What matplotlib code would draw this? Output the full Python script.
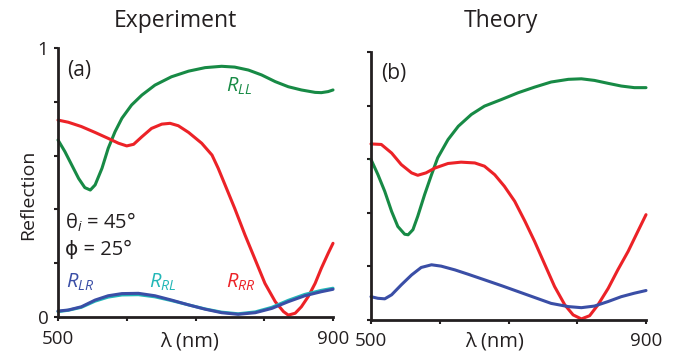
import matplotlib
matplotlib.use("Agg")
import matplotlib.pyplot as plt

plt.rcParams["font.family"] = ["Open Sans", "DejaVu Sans"]
plt.rcParams["mathtext.fontset"] = "custom"
plt.rcParams["mathtext.rm"] = "Open Sans"
plt.rcParams["mathtext.it"] = "Open Sans:italic"

GREEN = "#178a45"
RED = "#ec2227"
BLUE = "#3a4ea6"
CYAN = "#22b7b7"
INK = "#231f20"

# ---- (a) experiment ----
exp_ll_wl = [500, 510, 520, 530, 539, 547, 554, 564, 573, 583, 593, 607, 622, 641, 665, 690,
             714, 738, 757, 777, 796, 816, 835, 854, 874, 883, 893, 900]
exp_ll = [0.658, 0.615, 0.565, 0.515, 0.481, 0.472, 0.491, 0.553, 0.627, 0.689, 0.739, 0.788,
          0.825, 0.862, 0.893, 0.914, 0.927, 0.932, 0.929, 0.918, 0.900, 0.875, 0.856, 0.844,
          0.835, 0.834, 0.838, 0.844]

exp_rr_wl = [500, 515, 534, 554, 573, 588, 600, 610, 622, 636, 651, 663, 675, 690, 709, 724,
             733, 743, 757, 772, 787, 801, 816, 828, 835, 845, 854, 864, 874, 883, 893, 900]
exp_rr = [0.732, 0.724, 0.708, 0.686, 0.664, 0.646, 0.636, 0.642, 0.670, 0.701, 0.717, 0.720,
          0.711, 0.686, 0.646, 0.602, 0.553, 0.491, 0.404, 0.305, 0.212, 0.125, 0.057, 0.020,
          0.007, 0.014, 0.038, 0.076, 0.125, 0.181, 0.237, 0.274]

exp_lr_wl = [500, 515, 534, 554, 573, 593, 617, 641, 665, 690, 714, 738, 762, 787, 811, 835,
             859, 883, 900]
exp_lr = [0.022, 0.026, 0.038, 0.063, 0.079, 0.087, 0.088, 0.079, 0.063, 0.045, 0.029, 0.016,
          0.010, 0.016, 0.032, 0.057, 0.079, 0.094, 0.103]

exp_rl_wl = [500, 515, 534, 554, 573, 593, 617, 641, 665, 690, 714, 738, 762, 787, 811, 835,
             859, 883, 900]
exp_rl = [0.020, 0.025, 0.036, 0.059, 0.074, 0.082, 0.083, 0.075, 0.061, 0.045, 0.030, 0.018,
          0.012, 0.019, 0.036, 0.062, 0.084, 0.099, 0.107]

# ---- (b) theory ----
th_ll_wl = [500, 510, 520, 530, 539, 549, 554, 561, 568, 578, 588, 597, 612, 627, 646, 665,
            690, 714, 738, 762, 787, 806, 825, 845, 864, 883, 900]
th_ll = [0.599, 0.543, 0.480, 0.405, 0.349, 0.320, 0.318, 0.337, 0.387, 0.468, 0.542, 0.605,
         0.673, 0.723, 0.767, 0.798, 0.823, 0.848, 0.869, 0.888, 0.898, 0.900, 0.894, 0.883,
         0.873, 0.867, 0.867]

th_rr_wl = [500, 515, 530, 544, 559, 568, 580, 593, 612, 631, 651, 665, 680, 694, 709, 724,
            738, 753, 767, 782, 794, 806, 818, 830, 845, 859, 874, 888, 900]
th_rr = [0.657, 0.655, 0.623, 0.580, 0.549, 0.540, 0.549, 0.567, 0.584, 0.589, 0.586, 0.574,
         0.542, 0.499, 0.443, 0.368, 0.293, 0.206, 0.125, 0.056, 0.019, 0.004, 0.016, 0.056,
         0.118, 0.187, 0.256, 0.330, 0.393]

th_lr_wl = [500, 510, 520, 530, 544, 559, 573, 588, 602, 622, 641, 665, 690, 714, 738, 762,
            787, 806, 825, 845, 864, 883, 900]
th_lr = [0.087, 0.081, 0.079, 0.094, 0.131, 0.168, 0.196, 0.206, 0.201, 0.187, 0.171, 0.150,
         0.128, 0.106, 0.084, 0.062, 0.050, 0.046, 0.052, 0.069, 0.087, 0.100, 0.110]

XTICKS = [500, 600, 700, 800, 900]
XTICKLABELS = ["500", "", "", "", "900"]
YTICKS = [0, 0.2, 0.4, 0.6, 0.8, 1.0]

W, H = 681, 358
fig = plt.figure(figsize=(W / 100, H / 100), dpi=100)
ax_a = fig.add_axes([58 / W, 41 / H, 275 / W, 269 / H])
ax_b = fig.add_axes([371 / W, 38 / H, 275 / W, 268 / H])

for ax in (ax_a, ax_b):
    ax.set_xlim(500, 900)
    ax.set_ylim(0, 1)
    for s in ("top", "right"):
        ax.spines[s].set_visible(False)
    for s in ("left", "bottom"):
        ax.spines[s].set_linewidth(2.0)
        ax.spines[s].set_color(INK)
    ax.set_xticks(XTICKS)
    ax.set_xticklabels(XTICKLABELS)
    ax.set_yticks(YTICKS)
    ax.tick_params(direction="out", length=3, width=1.5, color=INK,
                   labelsize=13.5, labelcolor=INK)
    ax.tick_params(axis="x", pad=6)
    ax.tick_params(axis="y", pad=4)

ax_a.set_yticklabels(["0", "", "", "", "", "1"])
ax_b.set_yticklabels([])

lw = 2.2
kw = dict(lw=lw, solid_capstyle="round", solid_joinstyle="round", clip_on=False)
ax_a.plot(exp_ll_wl, exp_ll, color=GREEN, **kw)
ax_a.plot(exp_rr_wl, exp_rr, color=RED, **kw)
ax_a.plot(exp_rl_wl, exp_rl, color=CYAN, **kw)
ax_a.plot(exp_lr_wl, exp_lr, color=BLUE, **kw)

ax_b.plot(th_ll_wl, th_ll, color=GREEN, **kw)
ax_b.plot(th_rr_wl, th_rr, color=RED, **kw)
ax_b.plot(th_lr_wl, th_lr, color=BLUE, **kw)

lab = dict(fontsize=14.5, ha="left", va="baseline")
ax_a.text(745, 0.836, r"$\mathit{R}_{\mathit{LL}}$", color=GREEN, **lab)
ax_a.text(511, 0.11, r"$\mathit{R}_{\mathit{LR}}$", color=BLUE, **lab)
ax_a.text(633, 0.11, r"$\mathit{R}_{\mathit{RL}}$", color=CYAN, **lab)
ax_a.text(745, 0.11, r"$\mathit{R}_{\mathit{RR}}$", color=RED, **lab)

ax_a.text(510, 0.33, r"θ$_{\mathit{i}}$ = 45°", color=INK, fontsize=14.5, ha="left", va="baseline")
ax_a.text(510, 0.23, "ϕ = 25°", color=INK, fontsize=14.5, ha="left", va="baseline")

ax_a.text(514, 0.915, "(a)", color=INK, fontsize=15, ha="left", va="center")
ax_b.text(515, 0.92, "(b)", color=INK, fontsize=15, ha="left", va="center")

fig.text(175 / W, 1 - 21 / H, "Experiment", fontsize=16.5, color=INK, ha="center", va="center")
fig.text(501 / W, 1 - 21 / H, "Theory", fontsize=16.5, color=INK, ha="center", va="center")
fig.text(28 / W, 1 - 195 / H, "Reflection", fontsize=14, color=INK, rotation=90,
         ha="center", va="center")
fig.text(190 / W, 1 - 341 / H, "λ (nm)", fontsize=14.5, color=INK, ha="center", va="center")
fig.text(495 / W, 1 - 341 / H, "λ (nm)", fontsize=14.5, color=INK, ha="center", va="center")

fig.savefig("out.png", dpi=100)
